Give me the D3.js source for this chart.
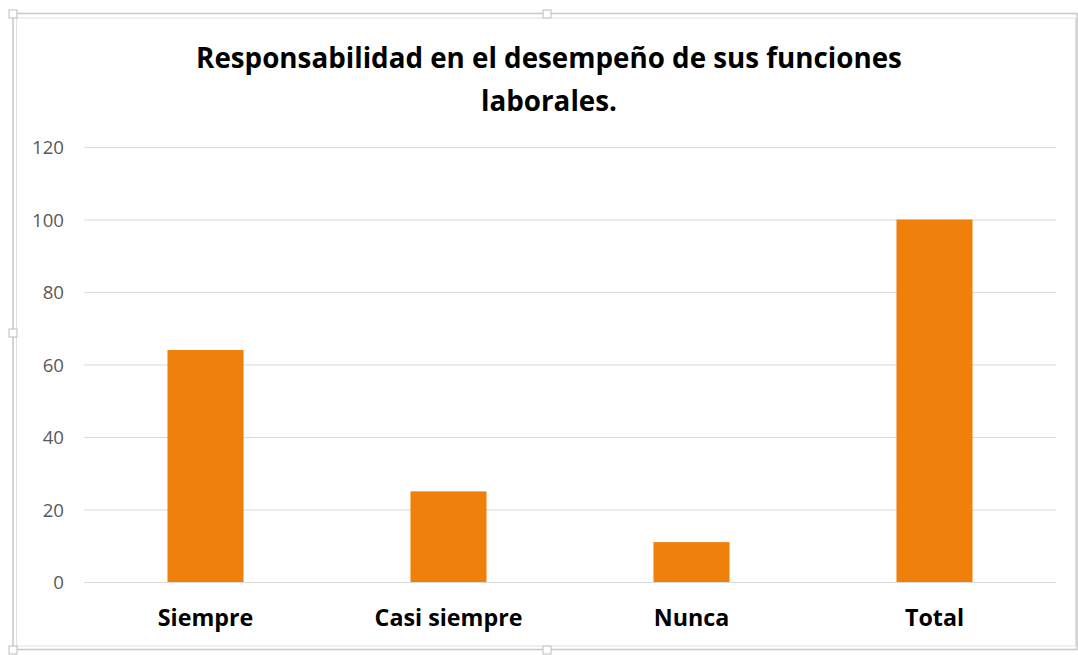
<!DOCTYPE html>
<html><head><meta charset="utf-8">
<script src="https://cdn.jsdelivr.net/npm/d3@7"></script>
<style>
html,body{margin:0;padding:0;background:#fff;}
svg{display:block;}
</style></head>
<body>
<script>
const categories = ["Siempre", "Casi siempre", "Nunca", "Total"];
const values = [64, 25, 11, 100];
const yTicks = [0, 20, 40, 60, 80, 100, 120];
const titleLines = ["Responsabilidad en el desempeño de sus funciones", "laborales."];

(function(){
const W = 1078, H = 655;
const svg = d3.select("body").append("svg").attr("width", W).attr("height", H);

// faint highlight behind the frame (as in the screenshot)
svg.append("rect").attr("x", 13).attr("y", 13.5).attr("width", 1064).attr("height", 636)
  .attr("fill", "none").attr("stroke", "#c8c8c8").attr("stroke-width", 1.5);
svg.append("rect").attr("x", 16.5).attr("y", 18).attr("width", 1059).attr("height", 628)
  .attr("fill", "none").attr("stroke", "#e0e0e0").attr("stroke-width", 1);
[[13,14],[547,14],[13,333],[547,650],[13,650]].forEach(([hx,hy])=>{
  svg.append("rect").attr("x", hx-4).attr("y", hy-4).attr("width", 8).attr("height", 8)
    .attr("fill", "#fff").attr("stroke", "#bdbdbd").attr("stroke-width", 1);
});

const font = "'Open Sans', Lato, 'Liberation Sans', sans-serif";
const pLeft = 84, pRight = 1056, pTop = 147, pBottom = 582;

function fit(sel, target) {
  const fs = +sel.attr("font-size");
  const w = sel.node().getComputedTextLength();
  if (w > 0) sel.attr("font-size", fs * target / w);
}

const x = d3.scaleBand().domain(categories).range([pLeft, pRight]).padding(0);
const y = d3.scaleLinear().domain([0, 120]).range([pBottom, pTop]);

const grid = svg.append("g").attr("transform", `translate(${pLeft},0)`)
  .call(d3.axisLeft(y).tickValues(yTicks).tickSize(-(pRight-pLeft)).tickFormat(""));
grid.select(".domain").remove();
grid.selectAll("line").attr("stroke", "#d9d9d9").attr("stroke-width", 1);

const yAxis = svg.append("g").attr("transform", `translate(64,0)`)
  .call(d3.axisLeft(y).tickValues(yTicks).tickSize(0).tickPadding(0));
yAxis.select(".domain").remove();
yAxis.selectAll("text").attr("font-family", font).attr("font-size", 17)
  .attr("fill", "#595959").attr("dy", "0.35em");
{
  const t120 = yAxis.selectAll("text").filter(d => d === 120);
  fit(t120, 32);
  const fs = t120.attr("font-size");
  yAxis.selectAll("text").attr("font-size", fs);
}

const barFrac = 0.313;
svg.append("g").selectAll("rect").data(categories).join("rect")
  .attr("x", d => x(d) + x.bandwidth()*(1-barFrac)/2)
  .attr("width", x.bandwidth()*barFrac)
  .attr("y", (d,i) => y(values[i]))
  .attr("height", (d,i) => y(0) - y(values[i]))
  .attr("fill", "#f0800c");

const xAxis = svg.append("g").attr("transform", `translate(0,${pBottom})`)
  .call(d3.axisBottom(x).tickSize(0).tickPadding(0));
xAxis.select(".domain").remove();
xAxis.selectAll("text").attr("font-family", font).attr("font-weight", "bold")
  .attr("font-size", 20).attr("fill", "#000").attr("y", 44).attr("dy", 0);
{
  const tc = xAxis.selectAll("text").filter(d => d === "Casi siempre");
  fit(tc, 148);
  xAxis.selectAll("text").attr("font-size", tc.attr("font-size"));
}

const t = svg.append("text").attr("text-anchor", "middle").attr("font-family", font)
  .attr("font-weight", "bold").attr("font-size", 24).attr("fill", "#000");
const l1 = t.append("tspan").attr("x", 549).attr("y", 68).text(titleLines[0]);
t.append("tspan").attr("x", 549).attr("y", 111).text(titleLines[1]);
{
  const w = l1.node().getComputedTextLength();
  if (w > 0) t.attr("font-size", 24 * 706 / w);
}
})();
</script>
</body></html>
